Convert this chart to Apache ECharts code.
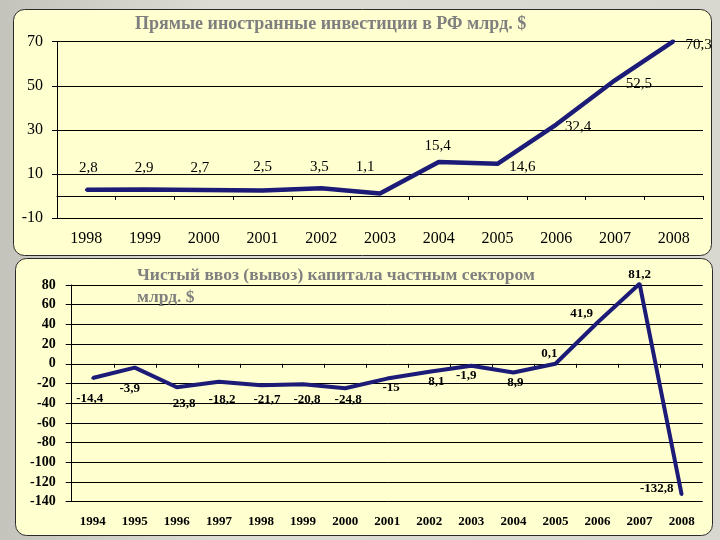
<!DOCTYPE html>
<html>
<head>
<meta charset="utf-8">
<script src="https://cdn.jsdelivr.net/npm/echarts@6/dist/echarts.min.js"></script>
<style>
html,body{margin:0;padding:0;}
body{width:720px;height:540px;background:linear-gradient(90deg,#c4c4bc 0%,#dcdcd4 30%,#d8d8d0 100%);}
#c{width:720px;height:540px;}
</style>
</head>
<body>
<div id="c"></div>
<script>
// Top chart: Прямые иностранные инвестиции
var years1 = ['1998','1999','2000','2001','2002','2003','2004','2005','2006','2007','2008'];
var fdiValues = [2.8, 2.9, 2.7, 2.5, 3.5, 1.1, 15.4, 14.6, 32.4, 52.5, 70.3];
var fdiLabels = ['2,8','2,9','2,7','2,5','3,5','1,1','15,4','14,6','32,4','52,5','70,3'];

// Bottom chart: Чистый ввоз (вывоз) капитала
var years2 = ['1994','1995','1996','1997','1998','1999','2000','2001','2002','2003','2004','2005','2006','2007','2008'];
var capValues = [-14.4, -3.9, -23.8, -18.2, -21.7, -20.8, -24.8, -15, -8.1, -1.9, -8.9, 0.1, 41.9, 81.2, -132.8];
var capLabels = ['-14,4','-3,9','-23,8','-18,2','-21,7','-20,8','-24,8','-15','8,1','-1,9','8,9','0,1','41,9','81,2','-132,8'];

// label placement (style, kept separate from data)
var off1 = [[2,-22],[-1,-22],[-4,-22],[0,-23],[-2,-21],[-15,-26],[-1,-16],[25,3],[22,3],[24,4],[25,4]];
var off2 = [[-3,21],[-5,21],[5,16],[3,18],[6,14],[4,15],[3,11],[4,9],[7,10],[-5,10],[2,10],[-6,-10],[-16,-9],[0,-9],[-25,-6]];

var serif = '"Liberation Serif","Times New Roman",serif';
var lineColor = '#1c1c78';

function build(vals, labels, offs, font) {
  return vals.map(function (v, i) {
    return {
      value: v,
      label: {
        show: true, position: 'inside', offset: offs[i],
        formatter: labels[i],
        color: '#000', fontFamily: serif,
        fontSize: font.size, fontWeight: font.weight
      }
    };
  });
}

var chart = echarts.init(document.getElementById('c'), null, {renderer: 'canvas'});
chart.setOption({
  animation: false,
  backgroundColor: 'transparent',
  graphic: [
    {type: 'rect', z: -10, shape: {x: 13.5, y: 9.5, width: 698, height: 246, r: 11},
     style: {fill: '#ffffcf', stroke: '#2a2a2a', lineWidth: 1}},
    {type: 'rect', z: -10, shape: {x: 15.5, y: 258.5, width: 697, height: 277, r: 11},
     style: {fill: '#ffffcf', stroke: '#2a2a2a', lineWidth: 1}}
  ],
  title: [
    {text: 'Прямые иностранные инвестиции в РФ млрд. $', left: 135, top: 15, padding: 0,
     textStyle: {fontFamily: serif, fontSize: 18, fontWeight: 'bold', color: '#7f7f7f'}},
    {text: 'Чистый ввоз (вывоз) капитала частным сектором\nмлрд. $', left: 137, top: 264, padding: 0,
     textStyle: {fontFamily: serif, fontSize: 17.5, fontWeight: 'bold', color: '#7f7f7f', lineHeight: 22}}
  ],
  grid: [
    {left: 57, right: 17, top: 41.7, height: 176.3, containLabel: false},
    {left: 71.7, right: 17.3, top: 285, height: 216.7, containLabel: false}
  ],
  xAxis: [
    {type: 'category', gridIndex: 0, data: years1, boundaryGap: true,
     axisLine: {lineStyle: {color: '#000', width: 1}},
     axisTick: {show: true, length: 4, lineStyle: {color: '#000'}},
     axisLabel: {color: '#000', fontFamily: serif, fontSize: 16, margin: 13, interval: 0}},
    {type: 'category', gridIndex: 1, data: years2, boundaryGap: true,
     axisLine: {lineStyle: {color: '#000', width: 1}},
     axisTick: {show: true, length: 4, lineStyle: {color: '#000'}},
     axisLabel: {color: '#000', fontFamily: serif, fontSize: 13, fontWeight: 'bold', margin: 13, interval: 0}}
  ],
  yAxis: [
    {type: 'value', gridIndex: 0, min: -10, max: 70, interval: 20,
     axisLine: {show: true, lineStyle: {color: '#000'}},
     axisTick: {show: true, length: 5, lineStyle: {color: '#000'}},
     splitLine: {show: true, lineStyle: {color: '#000', width: 1}},
     axisLabel: {color: '#000', fontFamily: serif, fontSize: 16, margin: 14, padding: [10, 0, 0, 0]}},
    {type: 'value', gridIndex: 1, min: -140, max: 80, interval: 20,
     axisLine: {show: true, lineStyle: {color: '#000'}},
     axisTick: {show: true, length: 6, lineStyle: {color: '#000'}},
     splitLine: {show: true, lineStyle: {color: '#000', width: 1}},
     axisLabel: {color: '#000', fontFamily: serif, fontSize: 14, fontWeight: 'bold', margin: 16, padding: [6, 0, 0, 0]}}
  ],
  series: [
    {type: 'line', xAxisIndex: 0, yAxisIndex: 0, clip: false,
     data: build(fdiValues, fdiLabels, off1, {size: 15, weight: 'normal'}),
     symbol: 'circle', symbolSize: 3, showSymbol: true,
     itemStyle: {color: lineColor},
     lineStyle: {color: lineColor, width: 4.5}},
    {type: 'line', xAxisIndex: 1, yAxisIndex: 1, clip: false,
     data: build(capValues, capLabels, off2, {size: 13, weight: 'bold'}),
     symbol: 'circle', symbolSize: 3, showSymbol: true,
     itemStyle: {color: lineColor},
     lineStyle: {color: lineColor, width: 4}}
  ]
});
</script>
</body>
</html>
